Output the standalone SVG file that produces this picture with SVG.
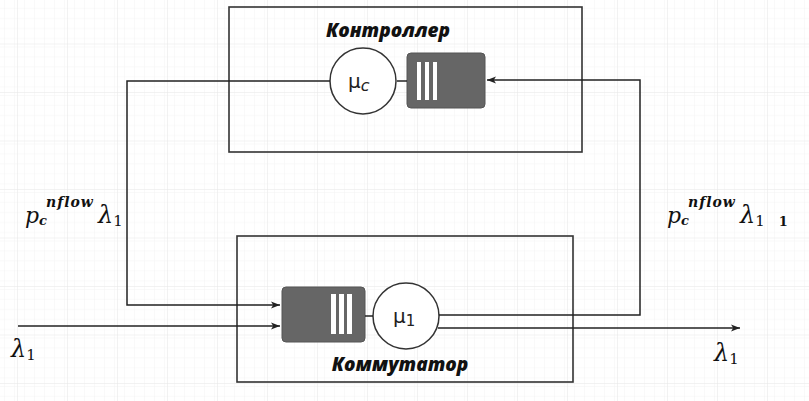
<svg xmlns="http://www.w3.org/2000/svg" width="809" height="401" viewBox="0 0 809 401">
<defs>
<pattern id="minor" width="10" height="10" patternUnits="userSpaceOnUse" x="17" y="-7">
<path d="M10 0 L0 0 0 10" fill="none" stroke="#f3f3f3" stroke-width="1"/>
</pattern>
<pattern id="major" width="50" height="48.5" patternUnits="userSpaceOnUse" x="17" y="-5">
<rect width="50" height="48.5" fill="url(#minor)"/>
<path d="M50 0 L0 0 0 48.5" fill="none" stroke="#e6e6e6" stroke-width="1"/>
</pattern>
<marker id="arr" viewBox="0 0 10 10" refX="10" refY="5" markerWidth="9" markerHeight="9" markerUnits="userSpaceOnUse" orient="auto">
<path d="M0 1 L10 5 L0 9 L2.5 5 Z" fill="#222"/>
</marker>
<style>
.box{fill:none;stroke:#333;stroke-width:1.6}
.line{fill:none;stroke:#222;stroke-width:1.5}
.srv{fill:#fff;stroke:#333;stroke-width:1.5}
.q{fill:#666;stroke:#555;stroke-width:1}
.bar{fill:#fff}
.title{font-family:"Open Sans","DejaVu Sans",sans-serif;font-weight:800;font-style:italic;font-size:19px;fill:#111}
.math{font-family:"DejaVu Serif","Liberation Serif",serif;font-style:italic;fill:#111}
.mu{font-family:"DejaVu Sans","Liberation Sans",sans-serif;font-size:20px;fill:#222}
</style>
</defs>
<rect width="809" height="401" fill="#fff"/>
<rect width="809" height="401" fill="url(#major)"/>

<g id="controller">
<rect class="box" x="229" y="7" width="353" height="145"/>
<text class="title" x="388" y="37" text-anchor="middle">Контроллер</text>
<circle class="srv" cx="363" cy="81" r="33"/>
<text class="mu" x="348" y="88">μ<tspan font-size="16" font-style="italic" dy="3">c</tspan></text>
<rect class="q" x="407" y="53" width="78" height="55" rx="4"/>
<rect class="bar" x="417" y="62" width="4" height="38"/>
<rect class="bar" x="425" y="62" width="4" height="38"/>
<rect class="bar" x="433" y="62" width="4" height="38"/>
</g>

<g id="switch">
<rect class="box" x="237" y="236" width="336" height="146"/>
<text class="title" x="400" y="371" text-anchor="middle">Коммутатор</text>
<rect class="q" x="282" y="287" width="83" height="55" rx="4"/>
<rect class="bar" x="331" y="294" width="5" height="40"/>
<rect class="bar" x="339" y="294" width="5" height="40"/>
<rect class="bar" x="347" y="294" width="5" height="40"/>
<circle class="srv" cx="406" cy="316" r="33"/>
<text class="mu" x="393" y="323">μ<tspan font-size="15" dy="3">1</tspan></text>
</g>

<g id="connectors">
<line class="line" x1="397" y1="81" x2="407" y2="81"/>
<line class="line" x1="365" y1="316" x2="373" y2="316"/>
<polyline class="line" points="330,81 127,81 127,305 280,305" marker-end="url(#arr)"/>
<line class="line" x1="18" y1="326" x2="280" y2="326" marker-end="url(#arr)"/>
<polyline class="line" points="439,315 640,315 640,80 487,80" marker-end="url(#arr)"/>
<line class="line" x1="438" y1="328" x2="740" y2="328" marker-end="url(#arr)"/>
</g>

<g id="labels">
<text class="math" x="25" y="223" font-size="22">p<tspan font-size="13" dy="2" font-weight="bold">c</tspan><tspan font-size="14" dy="-18" dx="-1" letter-spacing="1" font-weight="bold">nflow</tspan><tspan font-size="24" dy="16" dx="4">λ</tspan><tspan font-size="15" dy="3" font-style="normal">1</tspan></text>
<text class="math" x="667" y="223" font-size="22">p<tspan font-size="13" dy="2" font-weight="bold">c</tspan><tspan font-size="14" dy="-18" dx="-1" letter-spacing="1" font-weight="bold">nflow</tspan><tspan font-size="24" dy="16" dx="4">λ</tspan><tspan font-size="15" dy="3" font-style="normal">1</tspan><tspan font-size="13" dx="14" font-style="normal" font-weight="bold">1</tspan></text>
<text class="math" x="11" y="357" font-size="24">λ<tspan font-size="15" dy="3" font-style="normal">1</tspan></text>
<text class="math" x="714" y="361" font-size="24">λ<tspan font-size="15" dy="3" font-style="normal">1</tspan></text>
</g>
</svg>
